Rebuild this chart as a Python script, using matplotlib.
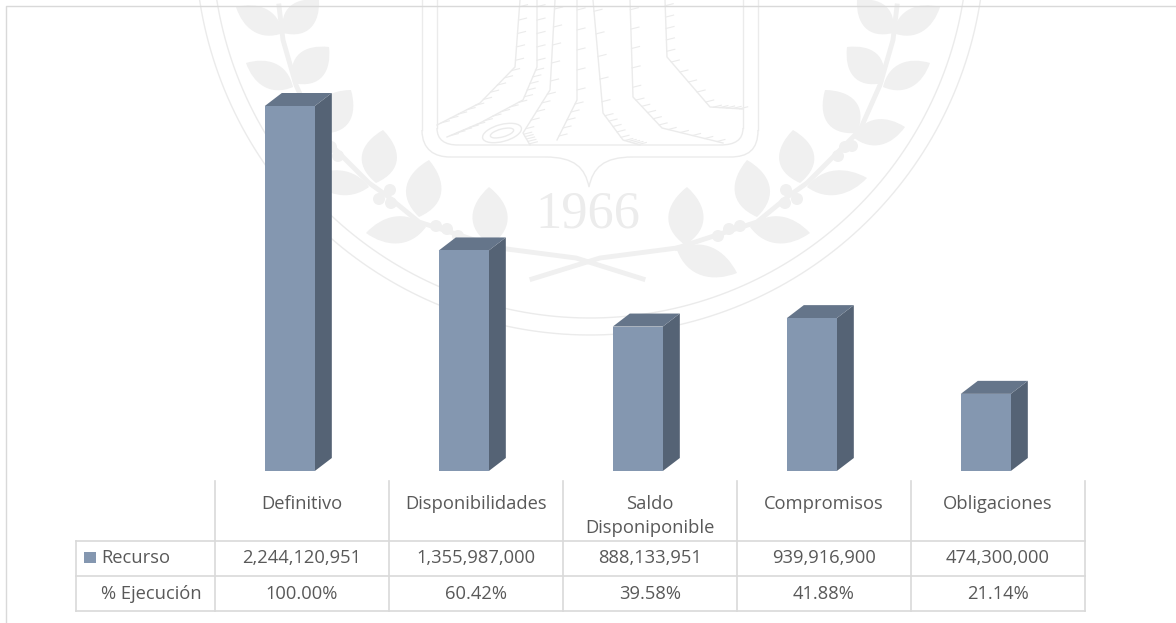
import matplotlib
matplotlib.use('Agg')
import matplotlib.pyplot as plt
from matplotlib.patches import Circle, Ellipse, PathPatch, Rectangle
from matplotlib.path import Path
import numpy as np

# Values of the chart
categorias = ['Definitivo', 'Disponibilidades', 'Saldo\nDisponiponible', 'Compromisos', 'Obligaciones']
recurso = [2244120951, 1355987000, 888133951, 939916900, 474300000]
ejecucion = ['100.00%', '60.42%', '39.58%', '41.88%', '21.14%']
filas = ['Recurso', '% Ejecución']

FRONT = '#8497b0'
SIDE = '#556375'
TOP = '#65758a'
GRID = '#d9d9d9'
TEXT = '#595959'
MARK = '#f0f0f0'
MARK_LINE = '#ebebeb'

plt.rcParams['font.family'] = ['Open Sans', 'DejaVu Sans']

fig = plt.figure(figsize=(11.76, 6.23), dpi=100)

# Background axes in pixels, for the watermark and the data table
bg = fig.add_axes([0, 0, 1, 1], zorder=0)
bg.set_xlim(0, 1176)
bg.set_ylim(623, 0)
bg.axis('off')


def leaf(x0, y0, x1, y1, w):
    # pointed leaf from its base to its tip
    dx, dy = x1 - x0, y1 - y0
    n = np.hypot(dx, dy)
    nx, ny = -dy / n * w, dx / n * w
    a1 = (x0 + dx * 0.3 + nx, y0 + dy * 0.3 + ny)
    a2 = (x0 + dx * 0.7 + nx * 0.8, y0 + dy * 0.7 + ny * 0.8)
    b1 = (x0 + dx * 0.7 - nx * 0.8, y0 + dy * 0.7 - ny * 0.8)
    b2 = (x0 + dx * 0.3 - nx, y0 + dy * 0.3 - ny)
    verts = [(x0, y0), a1, a2, (x1, y1), b1, b2, (x0, y0)]
    codes = [Path.MOVETO] + [Path.CURVE4] * 6
    bg.add_patch(PathPatch(Path(verts, codes), fc=MARK, ec='none', zorder=1))


def mirror(x):
    return 1176 - x


hojas = [
    (685, 245, 687, 187, 26), (677, 250, 737, 273, 22),
    (757, 217, 747, 160, 26), (750, 227, 810, 233, 20),
    (800, 183, 793, 130, 26), (807, 187, 867, 178, 18),
    (857, 133, 825, 90, 26), (853, 137, 905, 127, 19),
    (883, 83, 847, 47, 24), (883, 87, 930, 63, 19),
    (893, 33, 857, 0, 22), (893, 33, 940, 7, 19),
]
bayas = [(718, 236), (729, 229), (740, 226), (786, 190), (797, 199), (785, 203),
         (845, 147), (852, 146), (838, 156)]
tallo = np.array([(677, 248), (723, 233), (757, 222), (790, 195), (807, 183),
                  (840, 150), (860, 130), (880, 85), (893, 40), (897, 6)])

for x0, y0, x1, y1, w in hojas:
    leaf(x0, y0, x1, y1, w)
    leaf(mirror(x0), y0, mirror(x1), y1, -w)
for x, y in bayas:
    bg.add_patch(Circle((x, y), 6, fc=MARK, ec='none', zorder=1))
    bg.add_patch(Circle((mirror(x), y), 6, fc=MARK, ec='none', zorder=1))
bg.plot(tallo[:, 0], tallo[:, 1], color=MARK, lw=3.5, zorder=1)
bg.plot(mirror(tallo[:, 0]), tallo[:, 1], color=MARK, lw=3.5, zorder=1)
# crossed ribbon under the year
bg.plot([677, 600, 532], [248, 258, 279], color=MARK, lw=3.5, zorder=1)
bg.plot([499, 576, 643], [248, 258, 279], color=MARK, lw=3.5, zorder=1)

# double circle of the seal
for r in (378, 395):
    t = np.linspace(0, np.pi, 300)
    bg.plot(590 + r * np.cos(t), -60 + r * np.sin(t), color=MARK_LINE, lw=1.0, zorder=1)

# inner frame with the point at the bottom
bg.plot([437, 437], [0, 128], color=MARK_LINE, lw=1.0, zorder=1)
bg.plot([743, 743], [0, 128], color=MARK_LINE, lw=1.0, zorder=1)
bg.plot([422, 422], [0, 130], color=MARK_LINE, lw=1.0, zorder=1)
bg.plot([758, 758], [0, 130], color=MARK_LINE, lw=1.0, zorder=1)
marco = [
    ([(437, 128), (437, 140), (445, 145), (458, 145), (720, 145), (735, 145), (743, 140), (743, 128)],
     [Path.MOVETO, Path.CURVE4, Path.CURVE4, Path.CURVE4, Path.LINETO, Path.CURVE4, Path.CURVE4, Path.CURVE4]),
    ([(422, 130), (422, 150), (435, 157), (450, 157), (545, 157), (575, 157), (585, 168), (589, 187),
      (593, 168), (603, 157), (633, 157), (730, 157), (748, 157), (758, 150), (758, 130)],
     [Path.MOVETO, Path.CURVE4, Path.CURVE4, Path.CURVE4, Path.LINETO, Path.CURVE4, Path.CURVE4, Path.CURVE4,
      Path.CURVE4, Path.CURVE4, Path.CURVE4, Path.LINETO, Path.CURVE4, Path.CURVE4, Path.CURVE4]),
]
for verts, codes in marco:
    bg.add_patch(PathPatch(Path(verts, codes), fc='none', ec=MARK_LINE, lw=1.0, zorder=1))

# trunk and roots of the tree
raices = [
    [(520, 0), (515, 67), (480, 103), (437, 125)],
    [(537, 0), (537, 67), (523, 100), (480, 123), (447, 137)],
    [(555, 0), (550, 90), (523, 133), (530, 145)],
    [(577, 0), (577, 100), (557, 140)],
    [(593, 0), (603, 113), (623, 140), (640, 145)],
    [(630, 0), (633, 97), (662, 128), (723, 143)],
    [(665, 0), (667, 57), (710, 107), (743, 109)],
]
for raiz in raices:
    r = np.array(raiz)
    bg.plot(r[:, 0], r[:, 1], color=MARK_LINE, lw=1.0, zorder=1)
    # bark ticks along each root
    for (xa, ya), (xb, yb) in zip(r[:-1], r[1:]):
        for f in np.arange(0.1, 1, 0.2):
            xm, ym = xa + (xb - xa) * f, ya + (yb - ya) * f
            bg.plot([xm, xm + 8], [ym, ym - 2], color=MARK_LINE, lw=0.8, zorder=1)
bg.add_patch(Ellipse((502, 133), 40, 17, angle=-15, fc='none', ec=MARK_LINE, lw=1.0, zorder=1))
bg.add_patch(Ellipse((502, 133), 24, 8, angle=-15, fc='none', ec=MARK_LINE, lw=1.0, zorder=1))
bg.text(588, 215, '1966', family='Liberation Serif', fontsize=37.8, color='#ececec',
        ha='center', va='center', zorder=1)

# outer border of the chart area
bg.plot([1176, 6, 6], [6, 6, 623], color=GRID, lw=1.0, zorder=2)

# Data table
col_x = [215 + 174 * i for i in range(6)]
fila_y = [541, 576, 611]
for x in col_x:
    bg.plot([x, x], [481, 611], color=GRID, lw=1.2, zorder=2)
bg.plot([76, 76], [541, 611], color=GRID, lw=1.2, zorder=2)
for y in fila_y:
    bg.plot([76, 1085], [y, y], color=GRID, lw=1.2, zorder=2)
bg.add_patch(Rectangle((84, 552), 12, 11, fc=FRONT, ec='none', zorder=3))

FS = 13.2
for i, cat in enumerate(categorias):
    xc = col_x[i] + 87
    partes = cat.split('\n')
    bg.text(xc, 504, partes[0], ha='center', va='center', fontsize=FS, color=TEXT, zorder=3)
    if len(partes) > 1:
        bg.text(xc, 528, partes[1], ha='center', va='center', fontsize=FS, color=TEXT, zorder=3)
    bg.text(xc, 558, f'{recurso[i]:,}', ha='center', va='center', fontsize=FS, color=TEXT, zorder=3)
    bg.text(xc, 594, ejecucion[i], ha='center', va='center', fontsize=FS, color=TEXT, zorder=3)
bg.text(101, 558, filas[0], ha='left', va='center', fontsize=FS, color=TEXT, zorder=3)
bg.text(101, 594, filas[1], ha='left', va='center', fontsize=FS, color=TEXT, zorder=3)

# Bars, in value units. Axes runs from the table columns up to the top of the image
ax = fig.add_axes([215 / 1176, (623 - 471) / 623, 870 / 1176, 471 / 623], zorder=1)
ax.patch.set_alpha(0)
ax.axis('off')
ax.set_xlim(-0.5, 4.5)
ymax = max(recurso) * 471 / 365
ax.set_ylim(0, ymax)

x = np.arange(len(recurso)) - 0.07
ancho = 50 / 174
dx = 17 / 174
dy = 13 / 471 * ymax
ax.bar(x, recurso, width=ancho, color=FRONT, zorder=3)
for xi, v in zip(x, recurso):
    l, r = xi - ancho / 2, xi + ancho / 2
    ax.fill([r, r + dx, r + dx, r], [0, dy, v + dy, v], color=SIDE, lw=0, zorder=2)
    ax.fill([l, l + dx, r + dx, r], [v, v + dy, v + dy, v], color=TOP, lw=0, zorder=2)

fig.savefig('out.png', dpi=100)
